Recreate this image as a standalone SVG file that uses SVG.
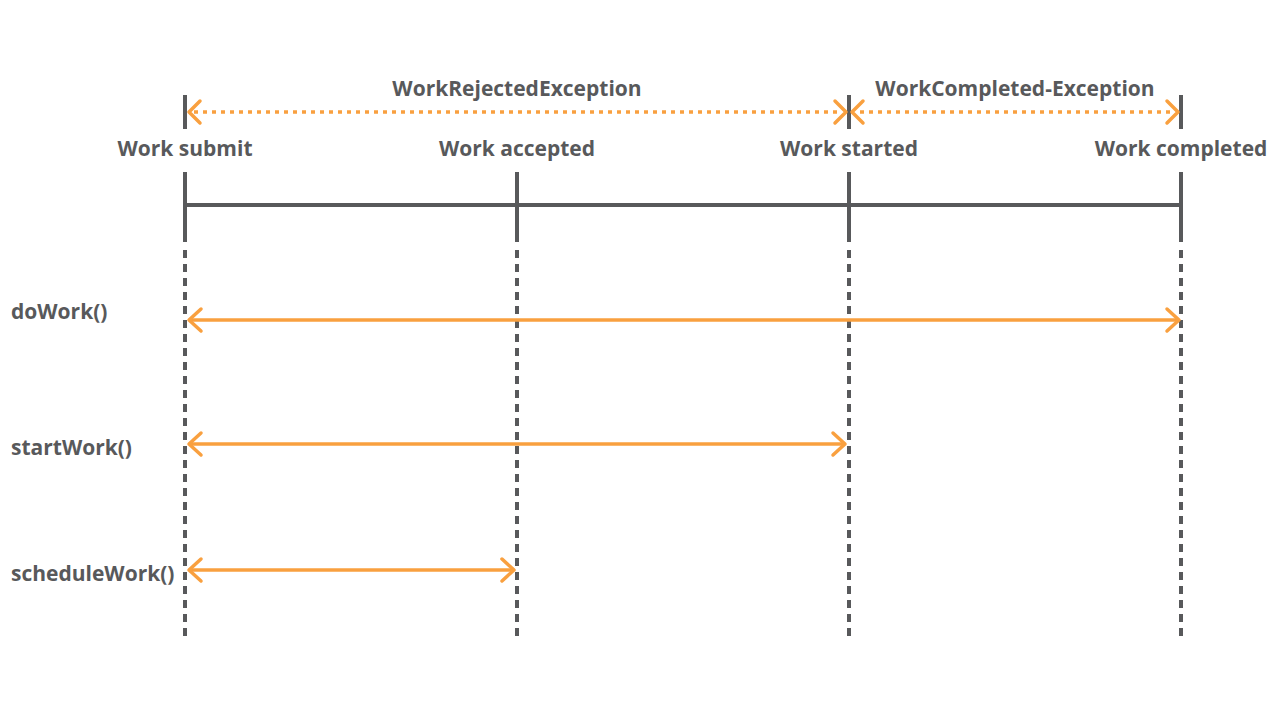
<svg xmlns="http://www.w3.org/2000/svg" width="1279" height="721" viewBox="0 0 1279 721">
<style>
.t{font-family:"Open Sans","Liberation Sans",sans-serif;font-weight:700;font-size:21px;fill:#58595b}
.m{text-anchor:middle}
.solid{stroke:#58595b;stroke-width:4;fill:none}
.dash{stroke:#58595b;stroke-width:4;stroke-dasharray:8 6;fill:none}
.arr{stroke:#f9a03f;stroke-width:3.5;fill:none}
.dot{stroke:#f9a03f;stroke-width:3.5;stroke-dasharray:4 5;fill:none}
.head{stroke:#f9a03f;stroke-width:3.5;fill:none;stroke-linecap:round;stroke-linejoin:round}
</style>
<rect width="1279" height="721" fill="#ffffff"/>
<g id="timeline">
<line class="solid" x1="185" y1="205" x2="1181" y2="205"/>
<line class="solid" x1="185" y1="172" x2="185" y2="242"/>
<line class="solid" x1="517" y1="172" x2="517" y2="242"/>
<line class="solid" x1="849" y1="172" x2="849" y2="242"/>
<line class="solid" x1="1181" y1="172" x2="1181" y2="242"/>
<line class="solid" x1="185" y1="95" x2="185" y2="129"/>
<line class="solid" x1="849" y1="95" x2="849" y2="129"/>
<line class="solid" x1="1181" y1="95" x2="1181" y2="129"/>
<line class="dash" x1="185" y1="250" x2="185" y2="638"/>
<line class="dash" x1="517" y1="250" x2="517" y2="638"/>
<line class="dash" x1="849" y1="250" x2="849" y2="638"/>
<line class="dash" x1="1181" y1="250" x2="1181" y2="638"/>
</g>
<g id="n-submit"><text class="t m" x="185" y="156">Work submit</text></g>
<g id="n-accepted"><text class="t m" x="517" y="156">Work accepted</text></g>
<g id="n-started"><text class="t m" x="849" y="156">Work started</text></g>
<g id="n-completed"><text class="t m" x="1181" y="156">Work completed</text></g>
<g id="n-rejected"><text class="t m" x="517" y="96">WorkRejectedException</text></g>
<g id="n-completedex"><text class="t m" x="1015" y="96">WorkCompleted-Exception</text></g>
<g id="n-doWork"><text class="t" x="11" y="319">doWork()</text></g>
<g id="n-startWork"><text class="t" x="11" y="455">startWork()</text></g>
<g id="n-scheduleWork"><text class="t" x="11" y="581">scheduleWork()</text></g>
<g id="connectors">
<line class="dot" x1="194" y1="112" x2="842" y2="112"/>
<path class="head" d="M200 101 L189 112 L200 123"/>
<path class="head" d="M835 101 L846 112 L835 123"/>
<line class="dot" x1="860" y1="112" x2="1174" y2="112"/>
<path class="head" d="M863 101 L852 112 L863 123"/>
<path class="head" d="M1167 101 L1178 112 L1167 123"/>
<line class="arr" x1="189" y1="320" x2="1179" y2="320"/>
<path class="head" d="M201 309 L189 320 L201 331"/>
<path class="head" d="M1167 309 L1179 320 L1167 331"/>
<line class="arr" x1="189" y1="444" x2="845" y2="444"/>
<path class="head" d="M201 433 L189 444 L201 455"/>
<path class="head" d="M833 433 L845 444 L833 455"/>
<line class="arr" x1="189" y1="570" x2="514" y2="570"/>
<path class="head" d="M201 559 L189 570 L201 581"/>
<path class="head" d="M502 559 L514 570 L502 581"/>
</g>
</svg>
